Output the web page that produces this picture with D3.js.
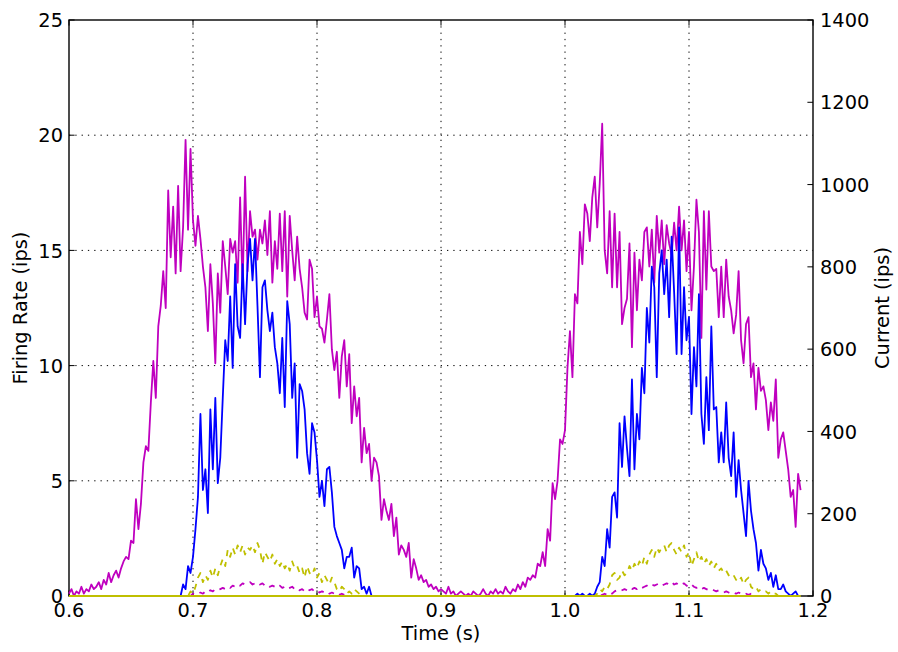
<!DOCTYPE html>
<html>
<head>
<meta charset="utf-8">
<script src="https://cdn.jsdelivr.net/npm/d3@7"></script>
<style>
  html, body { margin: 0; padding: 0; background: #fff; }
  svg { display: block; }
  text { font-family: "DejaVu Sans", sans-serif; fill: #000; }
</style>
</head>
<body>
<svg id="chart" width="898" height="652"></svg>
<script>
// ---------------- DATA ----------------
const tStart = 0.6;
const tStep = 0.002;

const xTicks = [0.6, 0.7, 0.8, 0.9, 1.0, 1.1, 1.2];
const xTickLabels = ["0.6", "0.7", "0.8", "0.9", "1.0", "1.1", "1.2"];
const leftTicks = [0, 5, 10, 15, 20, 25];
const rightTicks = [0, 200, 400, 600, 800, 1000, 1200, 1400];

// firing rate, magenta solid
const rateMagenta = [
  0.1,0.3,0.0,0.2,0.1,0.4,0.1,0.3,0.2,0.5,
  0.3,0.4,0.6,0.3,0.7,0.5,1.0,0.6,0.9,1.1,
  0.8,1.2,1.5,1.7,1.6,2.4,2.3,4.2,2.9,4.0,
  5.8,6.5,6.3,8.4,10.2,8.6,11.7,12.6,14.1,12.5,
  17.6,14.7,16.9,14.0,17.8,14.1,16.0,19.8,15.9,19.4,
  16.3,15.2,16.5,15.5,14.3,13.4,11.5,14.4,12.7,10.1,
  14.0,12.3,15.4,14.3,13.1,15.5,14.9,15.4,13.6,17.3,
  13.4,18.2,14.1,16.7,15.6,15.9,14.6,15.9,15.3,16.3,
  14.8,16.7,13.6,15.4,14.2,16.6,14.1,16.7,13.0,16.5,
  15.0,13.7,15.6,14.2,13.4,12.3,12.0,14.6,14.2,12.1,
  13.0,11.7,11.6,11.0,12.0,13.1,10.7,9.8,10.6,8.6,
  10.4,11.1,9.1,10.5,7.5,9.1,7.8,8.6,5.8,7.3,
  6.2,6.6,5.0,6.0,5.8,5.2,3.3,4.2,3.7,3.3,
  4.0,2.6,3.4,1.8,2.2,2.0,1.7,2.3,0.8,1.6,
  1.2,0.7,0.9,0.6,0.7,0.4,0.5,0.3,0.4,0.2,
  0.3,0.2,0.1,0.4,0.1,0.2,0.0,0.1,0.2,0.1,
  0.0,0.1,0.0,0.2,0.1,0.0,0.1,0.3,0.1,0.0,
  0.2,0.1,0.3,0.1,0.2,0.1,0.4,0.2,0.1,0.3,
  0.2,0.5,0.3,0.6,0.4,0.8,0.7,0.9,0.8,1.4,
  1.3,1.9,1.3,2.9,2.4,4.9,4.2,5.0,6.8,6.6,
  7.2,9.9,11.5,9.5,13.1,12.7,15.8,14.4,17.0,16.6,
  15.4,17.3,18.2,16.0,17.9,20.5,15.0,14.0,16.7,13.4,
  16.6,13.4,15.8,11.8,12.5,12.9,15.3,10.8,14.9,12.4,
  14.6,13.7,15.8,16.0,14.3,15.9,13.6,16.5,14.9,16.3,
  14.4,16.1,15.3,14.8,16.2,15.0,16.9,15.0,16.3,14.1,
  15.8,12.4,14.3,17.2,15.8,11.2,16.7,13.3,16.7,14.3,
  14.1,14.2,12.1,14.3,12.1,14.6,13.0,12.4,11.4,12.2,
  14.1,11.1,10.1,11.8,12.1,9.5,10.1,8.1,9.9,8.9,
  9.1,8.5,7.2,8.4,7.6,9.4,6.0,6.8,7.1,6.3,
  5.5,4.3,4.6,3.0,5.3,4.6
];

// firing rate, blue solid
const rateBlue = [
  0,0,0,0,0,0,0,0,0,0,
  0,0,0,0,0,0,0,0,0,0,
  0,0,0,0,0,0,0,0,0,0,
  0,0,0,0,0,0,0,0,0,0,
  0,0,0,0,0,0,0.5,0.3,1.3,1.0,
  1.7,2.9,4.3,7.9,4.6,5.5,3.6,8.1,5.5,8.6,
  4.9,6.0,8.6,11.1,10.2,13.0,9.9,14.4,11.7,11.2,
  14.4,11.8,14.4,15.5,13.7,15.5,12.6,9.5,13.4,13.7,
  12.4,11.5,12.3,10.8,10.1,8.8,11.2,8.2,12.8,11.8,
  8.6,10.1,6.0,9.2,8.9,8.1,6.2,5.3,7.5,7.1,
  5.9,4.3,5.0,3.9,5.5,5.6,4.5,3.0,2.6,2.3,
  2.0,1.2,1.7,1.7,2.1,0.8,1.3,1.2,0.3,0.4,
  0.1,0.4,0,0,0,0,0,0,0,0,
  0,0,0,0,0,0,0,0,0,0,
  0,0,0,0,0,0,0,0,0,0,
  0,0,0,0,0,0,0,0,0,0,
  0,0,0,0,0,0,0,0,0,0,
  0,0,0,0,0,0,0,0,0,0,
  0,0,0,0,0,0,0,0,0,0,
  0,0,0,0,0,0,0,0,0,0,
  0,0,0,0,0,0.1,0,0.1,0,0,
  0.1,0,0.1,0.4,0.6,1.7,1.3,2.9,2.1,4.3,
  4.5,3.4,7.5,5.6,7.8,6.4,5.2,9.4,5.5,7.9,
  6.8,9.9,8.8,12.5,11.0,14.3,13.4,9.5,14.0,15.0,
  13.1,14.6,12.1,15.6,13.2,10.5,16.0,10.5,13.4,11.1,
  12.1,7.9,10.8,9.1,13.1,7.9,6.6,9.5,7.2,11.7,
  8.1,8.2,5.8,7.1,5.8,8.4,6.0,5.2,7.1,4.3,
  5.9,4.6,3.6,2.6,5.0,3.7,2.9,2.3,1.1,2.0,
  1.4,1.2,0.7,1.0,0.4,0.9,0.3,0.3,0.5,0.2,
  0.1,0,0.1,0.2,0,0
];

// firing rate, olive solid (silent population)
const rateOlive = [
  0,0,0,0,0,0,0,0,0,0, 0,0,0,0,0,0,0,0,0,0,
  0,0,0,0,0,0,0,0,0,0, 0,0,0,0,0,0,0,0,0,0,
  0,0,0,0,0,0,0,0,0,0, 0,0,0,0,0,0,0,0,0,0,
  0,0,0,0,0,0,0,0,0,0, 0,0,0,0,0,0,0,0,0,0,
  0,0,0,0,0,0,0,0,0,0, 0,0,0,0,0,0,0,0,0,0,
  0,0,0,0,0,0,0,0,0,0, 0,0,0,0,0,0,0,0,0,0,
  0,0,0,0,0,0,0,0,0,0, 0,0,0,0,0,0,0,0,0,0,
  0,0,0,0,0,0,0,0,0,0, 0,0,0,0,0,0,0,0,0,0,
  0,0,0,0,0,0,0,0,0,0, 0,0,0,0,0,0,0,0,0,0,
  0,0,0,0,0,0,0,0,0,0, 0,0,0,0,0,0,0,0,0,0,
  0,0,0,0,0,0,0,0,0,0, 0,0,0,0,0,0,0,0,0,0,
  0,0,0,0,0,0,0,0,0,0, 0,0,0,0,0,0,0,0,0,0,
  0,0,0,0,0,0,0,0,0,0, 0,0,0,0,0,0,0,0,0,0,
  0,0,0,0,0,0,0,0,0,0, 0,0,0,0,0,0,0,0,0,0,
  0,0,0,0,0,0,0,0,0,0, 0,0,0,0,0,0
];

// dashed olive-yellow trace (rate-axis units)
const dashYellow = [
  0,0,0,0,0,0,0,0,0,0,
  0,0,0,0,0,0,0,0,0,0,
  0,0,0,0,0,0,0,0,0,0,
  0,0,0,0,0,0,0,0,0,0,
  0,0,0,0,0,0,0,0,0,0.2,
  0.1,0.4,0.8,1.0,0.6,0.9,0.7,1.1,0.8,1.2,
  0.9,1.3,1.6,1.3,2.0,1.7,2.1,1.8,2.2,1.9,
  2.2,1.8,2.1,2.0,2.2,1.9,2.3,2.0,1.4,1.9,
  1.7,1.5,1.8,1.4,1.6,1.3,1.5,1.2,1.4,1.1,
  1.5,1.2,1.3,1.0,1.2,0.8,1.3,1.0,0.9,1.2,
  0.8,1.0,0.6,0.9,0.7,0.5,0.8,0.6,0.3,0.2,
  0.4,0.3,0.1,0.2,0.1,0.3,0.2,0.1,0,0,
  0,0,0,0,0,0,0,0,0,0,
  0,0,0,0,0,0,0,0,0,0,
  0,0,0,0,0,0,0,0,0,0,
  0,0,0,0,0,0,0,0,0,0,
  0,0,0,0,0,0,0,0,0,0,
  0,0,0,0,0,0,0,0,0,0,
  0,0,0,0,0,0,0,0,0,0,
  0,0,0,0,0,0,0,0,0,0,
  0,0,0,0,0,0,0,0,0,0,
  0,0,0,0.1,0.3,0.2,0.4,0.3,0.5,0.9,
  1.0,0.7,0.8,1.1,0.9,1.0,1.3,1.1,1.4,1.2,
  1.5,1.3,1.7,1.4,1.8,2.0,1.7,2.1,1.9,2.1,
  2.2,1.9,2.2,2.3,2.0,1.8,2.1,1.9,2.2,1.7,
  1.9,1.3,1.6,1.9,1.5,1.7,1.4,1.6,1.3,1.5,
  1.2,1.4,1.1,1.2,1.0,1.1,0.9,0.8,0.9,0.7,
  0.6,0.8,0.5,0.7,0.8,0.4,0.3,0.4,0.2,0.3,
  0.2,0.2,0.1,0.2,0.1,0.1,0,0,0,0,
  0,0,0,0,0,0
];

// dashed magenta trace (rate-axis units)
const dashMagenta = [
  0,0,0,0,0,0,0,0,0,0,
  0,0,0,0,0,0,0,0,0,0,
  0,0,0,0,0,0,0,0,0,0,
  0,0,0,0,0,0,0,0,0,0,
  0,0,0,0,0,0,0,0,0,0,
  0.1,0.05,0.1,0.15,0.1,0.2,0.15,0.25,0.2,0.3,
  0.25,0.3,0.35,0.3,0.4,0.35,0.45,0.4,0.5,0.45,
  0.55,0.5,0.55,0.6,0.5,0.55,0.6,0.5,0.55,0.45,
  0.5,0.4,0.45,0.4,0.35,0.45,0.35,0.4,0.3,0.35,
  0.4,0.3,0.35,0.25,0.3,0.2,0.3,0.25,0.3,0.2,
  0.25,0.15,0.2,0.15,0.2,0.1,0.15,0.1,0.15,0.05,
  0.1,0.05,0.1,0,0,0,0,0,0,0,
  0,0,0,0,0,0,0,0,0,0,
  0,0,0,0,0,0,0,0,0,0,
  0,0,0,0,0,0,0,0,0,0,
  0,0,0,0,0,0,0,0,0,0,
  0,0,0,0,0,0,0,0,0,0,
  0,0,0,0,0,0,0,0,0,0,
  0,0,0,0,0,0,0,0,0,0,
  0,0,0,0,0,0,0,0,0,0,
  0,0,0,0,0,0,0,0,0,0,
  0,0,0,0,0,0.05,0.1,0.05,0.15,0.1,
  0.2,0.25,0.2,0.25,0.3,0.25,0.35,0.3,0.35,0.3,
  0.4,0.35,0.4,0.45,0.4,0.5,0.45,0.5,0.55,0.45,
  0.5,0.55,0.5,0.6,0.5,0.55,0.45,0.5,0.55,0.45,
  0.4,0.5,0.4,0.35,0.4,0.3,0.35,0.3,0.25,0.3,
  0.25,0.2,0.25,0.2,0.15,0.2,0.15,0.1,0.15,0.1,
  0.15,0.1,0.05,0.1,0.05,0.1,0.05,0,0,0,
  0,0,0,0,0,0,0,0,0,0,
  0,0,0,0,0,0
];

// ---------------- CHART ----------------
const svg = d3.select("#chart");
const W = 898, H = 652;
const m = { left: 69, right: 813, top: 20, bottom: 596 };
const FS = 19.4;

svg.append("rect").attr("width", W).attr("height", H).attr("fill", "#fff");

const x = d3.scaleLinear().domain([0.6, 1.2]).range([m.left, m.right]);
const yL = d3.scaleLinear().domain([0, 25]).range([m.bottom, m.top]);
const yR = d3.scaleLinear().domain([0, 1400]).range([m.bottom, m.top]);

const n = rateMagenta.length;
const times = d3.range(n).map(i => tStart + i * tStep);

// grid
const grid = svg.append("g")
  .attr("stroke", "#000").attr("stroke-width", 1)
  .attr("stroke-dasharray", "1.3,5").attr("fill", "none");
xTicks.filter(t => t > 0.6 + 1e-9 && t < 1.2 - 1e-9).forEach(t => {
  grid.append("line").attr("x1", x(t)).attr("x2", x(t))
    .attr("y1", m.top).attr("y2", m.bottom);
});
leftTicks.filter(v => v > 0 && v < 25).forEach(v => {
  grid.append("line").attr("x1", m.left).attr("x2", m.right)
    .attr("y1", yL(v)).attr("y2", yL(v));
});

// frame
svg.append("rect")
  .attr("x", m.left).attr("y", m.top)
  .attr("width", m.right - m.left).attr("height", m.bottom - m.top)
  .attr("fill", "none").attr("stroke", "#000").attr("stroke-width", 1.4);

// ticks (inside)
const TL = 5.6;
const tickG = svg.append("g").attr("stroke", "#000").attr("stroke-width", 1);
xTicks.forEach(t => {
  tickG.append("line").attr("x1", x(t)).attr("x2", x(t)).attr("y1", m.bottom).attr("y2", m.bottom - TL);
  tickG.append("line").attr("x1", x(t)).attr("x2", x(t)).attr("y1", m.top).attr("y2", m.top + TL);
});
leftTicks.forEach(v => {
  tickG.append("line").attr("x1", m.left).attr("x2", m.left + TL).attr("y1", yL(v)).attr("y2", yL(v));
});
rightTicks.forEach(v => {
  tickG.append("line").attr("x1", m.right).attr("x2", m.right - TL).attr("y1", yR(v)).attr("y2", yR(v));
});

// lines
const lineL = d3.line().x((d, i) => x(times[i])).y(d => yL(d));
function drawLine(data, color, dash) {
  const p = svg.append("path")
    .attr("d", lineL(data))
    .attr("fill", "none")
    .attr("stroke", color)
    .attr("stroke-width", 1.8)
    .attr("stroke-linejoin", "round");
  if (dash) p.attr("stroke-dasharray", dash);
}
drawLine(rateMagenta, "#bf00bf");
drawLine(rateBlue, "#0000ff");
drawLine(dashYellow, "#bfbf00", "6,6");
drawLine(dashMagenta, "#bf00bf", "6,6");
drawLine(rateOlive, "#bfbf00");

// tick labels
const lab = svg.append("g").attr("font-size", FS);
xTicks.forEach((t, i) => {
  lab.append("text").attr("x", x(t)).attr("y", 617)
    .attr("text-anchor", "middle").text(xTickLabels[i]);
});
leftTicks.forEach(v => {
  lab.append("text").attr("x", 63).attr("y", yL(v) + 7.1)
    .attr("text-anchor", "end").text(String(v));
});
rightTicks.forEach(v => {
  lab.append("text").attr("x", 820).attr("y", yR(v) + 7.1)
    .attr("text-anchor", "start").text(String(v));
});

// axis titles
svg.append("text").attr("font-size", FS)
  .attr("x", (m.left + m.right) / 2).attr("y", 640)
  .attr("text-anchor", "middle").text("Time (s)");
svg.append("text").attr("font-size", FS)
  .attr("transform", `translate(27,${(m.top + m.bottom) / 2}) rotate(-90)`)
  .attr("text-anchor", "middle").text("Firing Rate (ips)");
svg.append("text").attr("font-size", FS)
  .attr("transform", `translate(889,${(m.top + m.bottom) / 2}) rotate(-90)`)
  .attr("text-anchor", "middle").text("Current (ips)");
</script>
</body>
</html>
